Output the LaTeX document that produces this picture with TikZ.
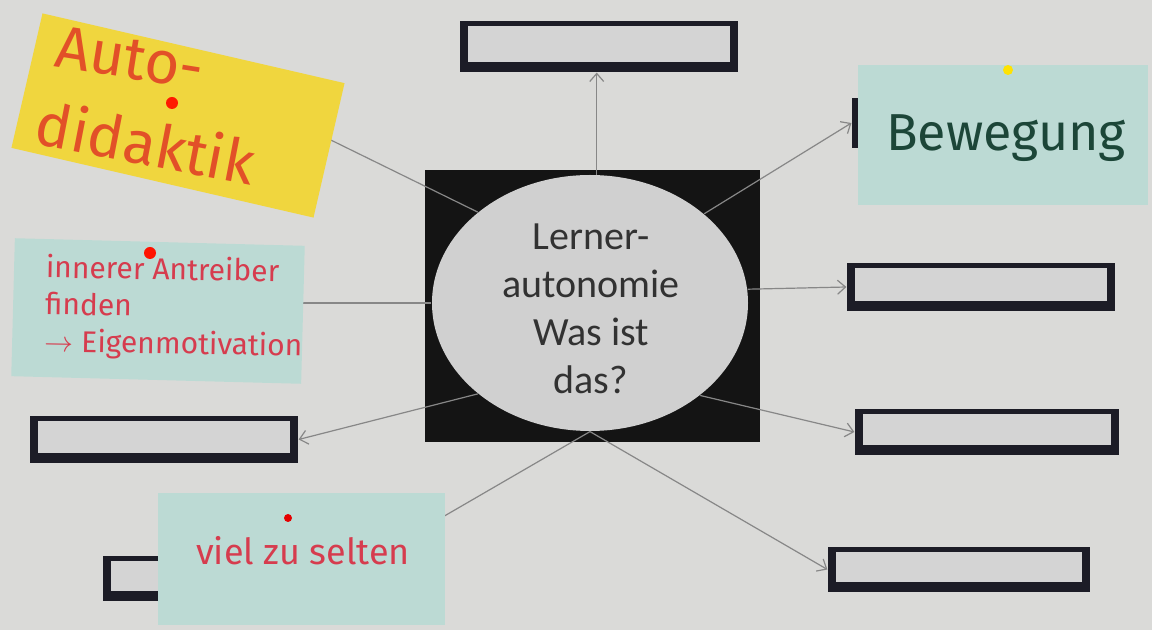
\documentclass[tikz,border=0pt]{standalone}
\usepackage{fontspec}
\setmainfont{Carlito}
\newfontfamily\markerfont{Fira Sans}
\usepackage{tikz}
\usetikzlibrary{shapes.geometric,arrows.meta}

\definecolor{wall}{RGB}{218,218,216}
\definecolor{frame}{RGB}{28,28,38}
\definecolor{slotin}{RGB}{212,212,212}
\definecolor{ovalgrey}{RGB}{208,208,208}
\definecolor{textgrey}{RGB}{50,50,50}
\definecolor{linkgrey}{RGB}{135,135,135}
\definecolor{yellownote}{RGB}{240,214,62}
\definecolor{bluenote}{RGB}{188,218,212}
\definecolor{orangemarker}{RGB}{226,80,40}
\definecolor{redmarker}{RGB}{214,60,78}
\definecolor{greenmarker}{RGB}{28,70,56}

\begin{document}
\begin{tikzpicture}[x=0.5pt,y=-0.5pt,semithick,
  slot/.style={fill=frame,inner sep=0pt,
    path picture={\fill[slotin] ([xshift=4pt,yshift=-2.5pt]path picture bounding box.north west)
      rectangle ([xshift=-4pt,yshift=5pt]path picture bounding box.south east);}},
  link/.style={draw=linkgrey,line width=0.6pt,-{Straight Barb[length=4pt,width=7pt]}},
  note/.style={inner sep=0pt},
  scrawl/.style={font=\markerfont\fontsize{#1}{#1}\selectfont}]
  \fill[wall] (0,0) rectangle (1152,630);
  %\draw[red] (0,0) grid[step=50] (1152,630);
  \node[fill=black!92,minimum width=167.5pt,minimum height=136pt,inner sep=0pt] (core) at (592.5,306) {};
  \node[ellipse,fill=ovalgrey,minimum width=158pt,minimum height=128pt,inner sep=0pt] (topic) at (590,303) {};
  \node[text=textgrey,align=center,font=\fontsize{20}{24}\selectfont] (q) at (591,309) {Lerner-\\autonomie\\Was ist\\das?};
  % empty slots
  \node[slot,minimum width=139pt,minimum height=25.5pt] (b1) at (599,46.5) {};
  \node[slot,minimum width=134pt,minimum height=25pt] (b2) at (986,123) {};
  \node[slot,minimum width=134pt,minimum height=24pt] (b3) at (981,287) {};
  \node[slot,minimum width=132pt,minimum height=23pt] (b4) at (987,432) {};
  \node[slot,minimum width=131pt,minimum height=22.5pt] (b5) at (959,569.5) {};
  \node[slot,minimum width=116.5pt,minimum height=22.5pt] (b6) at (219.5,578.5) {};
  \node[slot,minimum width=134pt,minimum height=23.5pt] (b7) at (164,439.5) {};
  \coordinate (c-auto) at (290,120);
  \coordinate (c-inner) at (285,303);
  % connectors
  \draw[link] (topic.87) -- (topic.87 |- b1.south);
  \draw[link] (topic.38) -- (b2.west);
  \draw[link] (topic.5) -- (b3.west);
  \draw[link] (topic.-40) -- (b4.west);
  \draw[link] (topic.south) -- (b5.west);
  \draw[link] (topic.south) -- (b6.east);
  \draw[link] (topic.-141) -- (b7.east);
  \draw[link] (topic.141) -- (c-auto);
  \draw[link] (topic.west) -- (c-inner);
  % notes
  \node[note,fill=yellownote,minimum width=155pt,minimum height=69pt,rotate=-13] (auto) at (178,115.5) {};
  \node[text=orangemarker,scrawl=30,rotate=-9] (auto-t1) at (130,58) {Auto-};
  \node[text=orangemarker,scrawl=30,rotate=-11] (auto-t2) at (146,142) {didaktik};
  \node[note,fill=bluenote,minimum width=145pt,minimum height=69pt,rotate=-1.5] (inner) at (158,311) {};
  \node[anchor=west,text=redmarker,align=left,rotate=-1,font=\markerfont\fontsize{15}{18.5}\selectfont] (inner-t) at (38,306) {innerer Antreiber\\finden\\$\rightarrow$ Eigenmotivation};
  \node[note,fill=bluenote,minimum width=143.5pt,minimum height=66pt] (selten) at (301.5,559) {};
  \node[text=redmarker,scrawl=18] (selten-t) at (303,551) {viel zu selten};
  \node[note,fill=bluenote,minimum width=145pt,minimum height=70pt] (bew) at (1003,135) {};
  \node[text=greenmarker,scrawl=26] (bew-t) at (1006,138) {Bewegung};
  % pins
  \fill[red!80!orange] (172,103) circle (3pt);
  \fill[red!85!orange] (150,253) circle (3pt);
  \fill[red!90!black] (288,518) circle (2pt);
  \fill[yellow!85!orange] (1008,70) circle (2.5pt);
\end{tikzpicture}
\end{document}
